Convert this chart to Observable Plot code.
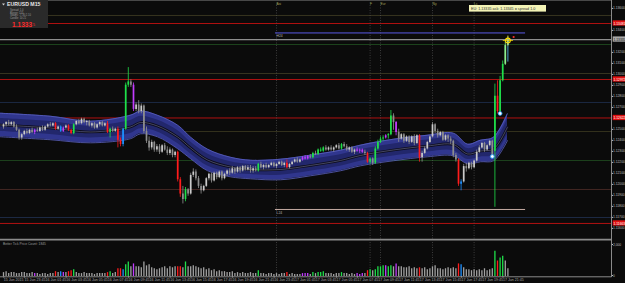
<!DOCTYPE html>
<html><head><meta charset="utf-8">
<script src="https://cdn.jsdelivr.net/npm/d3@7"></script>
<script src="https://cdn.jsdelivr.net/npm/@observablehq/plot@0.6"></script>
<style>
html,body{margin:0;padding:0;background:#0b0b0b;overflow:hidden;}
#wrap{position:relative;width:625px;height:283px;background:#0b0b0b;overflow:hidden;}
#wrap svg{position:absolute;left:0;}
</style></head><body><div id="wrap"></div>
<script>
// ---- EURUSD M15 candles, bar 0 = 15 Jun 2015 21:45 ----
const opens = [1.1254,1.1256,1.1258,1.1256,1.1258,1.1254,1.1251,1.1244,1.1247,1.1250,
1.1248,1.1251,1.1249,1.1251,1.1250,1.1253,1.1251,1.1254,1.1256,1.1255,
1.1257,1.1252,1.1254,1.1250,1.1253,1.1255,1.1251,1.1248,1.1256,1.1259,
1.1257,1.1261,1.1258,1.1259,1.1255,1.1257,1.1253,1.1256,1.1258,1.1255,
1.1257,1.1249,1.1252,1.1250,1.1252,1.1242,1.1238,1.1252,1.1292,1.1295,
1.1292,1.1270,1.1274,1.1268,1.1273,1.1250,1.1241,1.1235,1.1240,1.1233,
1.1236,1.1231,1.1237,1.1233,1.1230,1.1233,1.1228,1.1231,1.1206,1.1193,
1.1188,1.1197,1.1193,1.1210,1.1213,1.1207,1.1200,1.1196,1.1200,1.1207,
1.1211,1.1205,1.1212,1.1208,1.1213,1.1207,1.1211,1.1214,1.1212,1.1216,
1.1213,1.1217,1.1214,1.1218,1.1215,1.1217,1.1214,1.1216,1.1214,1.1220,
1.1217,1.1219,1.1217,1.1219,1.1221,1.1218,1.1220,1.1222,1.1219,1.1221,
1.1217,1.1220,1.1222,1.1224,1.1222,1.1224,1.1226,1.1225,1.1227,1.1226,
1.1230,1.1229,1.1233,1.1232,1.1235,1.1233,1.1235,1.1233,1.1235,1.1237,
1.1234,1.1238,1.1236,1.1233,1.1235,1.1231,1.1233,1.1232,1.1233,1.1231,
1.1230,1.1222,1.1225,1.1221,1.1234,1.1240,1.1243,1.1244,1.1246,1.1247,
1.1264,1.1258,1.1249,1.1243,1.1247,1.1241,1.1245,1.1240,1.1245,1.1239,
1.1246,1.1226,1.1230,1.1234,1.1240,1.1245,1.1256,1.1250,1.1246,1.1249,
1.1242,1.1246,1.1243,1.1241,1.1228,1.1224,1.1202,1.1204,1.1218,1.1216,
1.1221,1.1217,1.1223,1.1231,1.1235,1.1239,1.1233,1.1237,1.1241,1.1232,
1.1282,1.1268,1.1296,1.1311,1.1328];
const highs = [1.1257,1.1259,1.1260,1.1259,1.1259,1.1256,1.1252,1.1248,1.1251,1.1252,
1.1252,1.1253,1.1252,1.1253,1.1254,1.1255,1.1255,1.1257,1.1258,1.1258,
1.1258,1.1255,1.1255,1.1254,1.1256,1.1256,1.1252,1.1257,1.1260,1.1261,
1.1262,1.1262,1.1260,1.1260,1.1258,1.1258,1.1257,1.1259,1.1259,1.1258,
1.1259,1.1253,1.1254,1.1253,1.1254,1.1244,1.1253,1.1294,1.1308,1.1297,
1.1294,1.1276,1.1278,1.1275,1.1274,1.1254,1.1245,1.1242,1.1241,1.1238,
1.1238,1.1238,1.1239,1.1236,1.1235,1.1234,1.1232,1.1232,1.1208,1.1200,
1.1199,1.1198,1.1212,1.1216,1.1215,1.1209,1.1202,1.1201,1.1208,1.1212,
1.1212,1.1213,1.1213,1.1214,1.1214,1.1212,1.1215,1.1216,1.1218,1.1217,
1.1218,1.1218,1.1219,1.1219,1.1219,1.1219,1.1218,1.1218,1.1221,1.1222,
1.1220,1.1221,1.1220,1.1222,1.1222,1.1221,1.1223,1.1223,1.1222,1.1224,
1.1221,1.1223,1.1225,1.1226,1.1225,1.1227,1.1228,1.1228,1.1229,1.1231,
1.1232,1.1234,1.1235,1.1236,1.1237,1.1236,1.1237,1.1236,1.1238,1.1239,
1.1239,1.1240,1.1238,1.1236,1.1236,1.1234,1.1235,1.1234,1.1234,1.1233,
1.1231,1.1226,1.1226,1.1236,1.1242,1.1245,1.1246,1.1247,1.1248,1.1269,
1.1266,1.1259,1.1252,1.1248,1.1248,1.1246,1.1246,1.1246,1.1247,1.1247,
1.1247,1.1232,1.1236,1.1241,1.1246,1.1258,1.1257,1.1252,1.1250,1.1250,
1.1247,1.1247,1.1245,1.1242,1.1230,1.1225,1.1206,1.1220,1.1221,1.1222,
1.1222,1.1224,1.1233,1.1237,1.1240,1.1240,1.1238,1.1242,1.1242,1.1293,
1.1296,1.1300,1.1314,1.1332,1.1336];
const lows = [1.1252,1.1254,1.1255,1.1255,1.1253,1.1250,1.1242,1.1242,1.1246,1.1247,
1.1247,1.1248,1.1247,1.1249,1.1249,1.1250,1.1250,1.1253,1.1254,1.1254,
1.1251,1.1251,1.1249,1.1249,1.1252,1.1250,1.1247,1.1247,1.1255,1.1256,
1.1256,1.1257,1.1255,1.1254,1.1253,1.1252,1.1252,1.1254,1.1254,1.1254,
1.1248,1.1244,1.1249,1.1249,1.1235,1.1236,1.1236,1.1251,1.1290,1.1290,
1.1268,1.1268,1.1266,1.1266,1.1248,1.1239,1.1232,1.1233,1.1231,1.1231,
1.1229,1.1230,1.1232,1.1228,1.1228,1.1226,1.1226,1.1204,1.1190,1.1184,
1.1186,1.1191,1.1192,1.1208,1.1205,1.1198,1.1193,1.1195,1.1199,1.1205,
1.1203,1.1204,1.1206,1.1207,1.1205,1.1206,1.1209,1.1210,1.1211,1.1211,
1.1212,1.1212,1.1213,1.1214,1.1214,1.1212,1.1212,1.1213,1.1213,1.1216,
1.1215,1.1216,1.1216,1.1218,1.1217,1.1216,1.1219,1.1218,1.1217,1.1216,
1.1216,1.1219,1.1221,1.1221,1.1221,1.1223,1.1224,1.1224,1.1225,1.1225,
1.1228,1.1228,1.1231,1.1231,1.1232,1.1232,1.1232,1.1231,1.1234,1.1233,
1.1233,1.1235,1.1232,1.1231,1.1230,1.1229,1.1231,1.1230,1.1230,1.1228,
1.1221,1.1220,1.1219,1.1220,1.1233,1.1239,1.1241,1.1243,1.1243,1.1246,
1.1251,1.1246,1.1240,1.1242,1.1239,1.1240,1.1238,1.1239,1.1237,1.1238,
1.1222,1.1222,1.1229,1.1233,1.1239,1.1244,1.1248,1.1244,1.1245,1.1241,
1.1241,1.1240,1.1238,1.1226,1.1222,1.1200,1.1196,1.1203,1.1213,1.1215,
1.1215,1.1216,1.1222,1.1230,1.1234,1.1231,1.1232,1.1236,1.1226,1.1181,
1.1266,1.1266,1.1295,1.1310,1.1313];
const closes = [1.1256,1.1258,1.1256,1.1258,1.1254,1.1251,1.1244,1.1247,1.1250,1.1248,
1.1251,1.1249,1.1251,1.1250,1.1253,1.1251,1.1254,1.1256,1.1255,1.1257,
1.1252,1.1254,1.1250,1.1253,1.1255,1.1251,1.1248,1.1256,1.1259,1.1257,
1.1261,1.1258,1.1259,1.1255,1.1257,1.1253,1.1256,1.1258,1.1255,1.1257,
1.1249,1.1252,1.1250,1.1252,1.1242,1.1238,1.1252,1.1292,1.1295,1.1292,
1.1270,1.1274,1.1268,1.1273,1.1250,1.1241,1.1235,1.1240,1.1233,1.1236,
1.1231,1.1237,1.1233,1.1230,1.1233,1.1228,1.1231,1.1206,1.1193,1.1188,
1.1197,1.1193,1.1210,1.1213,1.1207,1.1200,1.1196,1.1200,1.1207,1.1211,
1.1205,1.1212,1.1208,1.1213,1.1207,1.1211,1.1214,1.1212,1.1216,1.1213,
1.1217,1.1214,1.1218,1.1215,1.1217,1.1214,1.1216,1.1214,1.1220,1.1217,
1.1219,1.1217,1.1219,1.1221,1.1218,1.1220,1.1222,1.1219,1.1221,1.1217,
1.1220,1.1222,1.1224,1.1222,1.1224,1.1226,1.1225,1.1227,1.1226,1.1230,
1.1229,1.1233,1.1232,1.1235,1.1233,1.1235,1.1233,1.1235,1.1237,1.1234,
1.1238,1.1236,1.1233,1.1235,1.1231,1.1233,1.1232,1.1233,1.1231,1.1230,
1.1222,1.1225,1.1221,1.1234,1.1240,1.1243,1.1244,1.1246,1.1247,1.1264,
1.1258,1.1249,1.1243,1.1247,1.1241,1.1245,1.1240,1.1245,1.1239,1.1246,
1.1226,1.1230,1.1234,1.1240,1.1245,1.1256,1.1250,1.1246,1.1249,1.1242,
1.1246,1.1243,1.1241,1.1228,1.1224,1.1202,1.1204,1.1218,1.1216,1.1221,
1.1217,1.1223,1.1231,1.1235,1.1239,1.1233,1.1237,1.1241,1.1228,1.1282,
1.1268,1.1296,1.1311,1.1328,1.1333];
// g gray, r climax down, G climax up, b low volume, m churn, l/c last bars
const barType = ("gggggggggg"+"ggmggggggg"+"rgbmgrrGgg"+"gggggggggg"+"rGggrrbGGg"+
"mggggggggg"+"gggggggrrg"+"Gggggggggg"+"gggggggggg"+"ggggggggGg"+
"gggggggggr"+"gggggmmmgG"+"gGGGgggggg"+"Ggggggmmmg"+"rGgGGGGmGG"+
"gmgggggggg"+"rggggggggg"+"gggggrbggg"+"gggggggggG"+"rGGlc").split("");
const volumes = [228,285,171,228,228,171,171,228,228,171,171,228,171,
171,114,171,171,114,171,171,
285,228,285,228,228,285,342,399,
228,171,171,228,171,171,171,114,171,171,171,171,
228,285,171,228,
456,456,399,684,855,570,741,570,570,513,855,627,684,513,456,399,456,513,570,456,570,513,570,
570,570,513,855,570,570,627,570,513,456,513,399,456,
342,399,285,342,285,285,228,228,285,171,228,171,228,171,171,228,171,171,
342,
171,171,114,171,171,114,171,114,171,171,
228,
114,171,114,114,114,
171,171,171,114,
228,171,228,228,285,171,171,
171,114,171,171,
228,
171,171,114,171,114,
171,114,171,171,
342,399,342,399,570,570,627,627,570,627,
570,741,570,570,513,513,570,456,513,456,
513,456,513,399,456,570,627,456,456,399,
456,513,456,513,456,741,684,513,399,399,
342,399,342,399,342,456,342,399,456,
1482,912,1083,1197,912,456];

// moving-average envelope (read at bar positions)
const bandIdx = [-1.2,18,33.5,48.8,52.7,59.2,67,72,78.5,87.3,95,106.5,118,129.6,137.3,150,163,173,178.5,183.5,188.5,193.8];
const bandUpper = [1.12665,1.12638,1.12593,1.12647,1.12684,1.12647,1.12556,1.12447,1.12338,1.12265,1.12238,1.12247,1.12284,1.12329,1.12375,1.12429,1.12465,1.12484,1.12384,1.12420,1.12447,1.12660];
const bandLower = [1.12451,1.12424,1.12396,1.12433,1.12478,1.12451,1.12342,1.12251,1.12142,1.12087,1.12069,1.12060,1.12096,1.12142,1.12187,1.12233,1.12269,1.12278,1.12205,1.12224,1.12233,1.12415];

// horizontal levels
const levelPrices = [1.13554,1.13290,1.13026,1.12763,1.12499,1.12235,1.11972,1.11717];
const levelColors = ["#3d3a22","#1f4a1f","#3d3a22","#1e2d4a","#38351f","#1f4a1f","#4a2a26","#1e2d4a"];
const redLevels = [1.13481,1.12972,1.12622,1.11663];
const bidPrice = 1.13335;
const rangeLines = [1.13395,1.11790];
const rangeNames = ["H24","L24"];
const rangeColors = ["#5a5ae6","#c4aaa2"];
const rangeStart = 104.6, rangeEnd = 200.8;
const sessionIdx = [105,141,145,165,181];
const sessionNames = ["Asi","F","Eur","Ny","Lc"];
const arrowIdx = [188,191];
const arrowPrice = [1.12272,1.12663];
const priceTicks = [1.1360,1.1340,1.1320,1.1310,1.1300,1.1290,1.1280,1.1270,1.1250,1.1240,1.1230,1.1220,1.1210,1.1200,1.1190,1.1180,1.1170,1.1160];
const labelIdx = [0,8,16,24,32,40,48,56,64,72,80,88,96,104,112,120,128,136,144,152,160,168,176,184,192];
const timeLabels = ["15 Jun 2015","15 Jun 23:45","16 Jun 01:45","16 Jun 03:45","16 Jun 05:45","16 Jun 07:45","16 Jun 09:45","16 Jun 11:45","16 Jun 13:45","16 Jun 15:45","16 Jun 17:45","16 Jun 19:45","16 Jun 21:45","16 Jun 23:45","17 Jun 01:45","17 Jun 03:45","17 Jun 05:45","17 Jun 07:45","17 Jun 09:45","17 Jun 11:45","17 Jun 13:45","17 Jun 15:45","17 Jun 17:45","17 Jun 19:45","17 Jun 21:45"];

// ---- drawing ----
const wrap = document.getElementById("wrap");
const font = "Liberation Sans, Arial, sans-serif";
const bars = d3.range(closes.length).map(i => ({i, o: opens[i], h: highs[i], l: lows[i], c: closes[i], t: barType[i], v: volumes[i]}));
const pal = {r:"#ff1c1c", G:"#1fe04a", b:"#1e90ff", m:"#c23cff", l:"#8ef08e", c:"#5cc8ff"};
const bodyCol = d => d.t === "g" ? (d.c >= d.o ? "#cacaca" : "#8d8d8d") : pal[d.t];
const wickCol = d => d.t === "g" ? "#909090" : pal[d.t];
const volCol = d => (d.t === "g" || d.t === "l" || d.t === "c") ? "#a2a2a2" : pal[d.t];
const xDomain = [-3/2.6, 608/2.6];
const band = bandIdx.map((x,k) => {
  const u = bandUpper[k], lo = bandLower[k], m = (u + lo) / 2, hw = (u - lo) / 2;
  return {x, u, lo, m, iu: m + hw * 0.55, il: m - hw * 0.55};
});
const boxes = [...redLevels.map(p => ({p, f:"#e01010", tc:"#ffffff"})), {p: bidPrice, f:"#a9a9a9", tc:"#101010"}];
const fmt5 = d3.format(".5f");
const curve = "catmull-rom";

const main = Plot.plot({
  width: 625, height: 240, marginLeft: 0, marginRight: 14, marginTop: 0, marginBottom: 0,
  style: {background: "transparent", color: "#c4c4c4", fontFamily: font, overflow: "visible"},
  x: {domain: xDomain, axis: null, label: null},
  y: {domain: [1.11508, 1.1369], axis: null, label: null},
  color: {type: "identity"},
  marks: [
    Plot.ruleY(levelPrices, {y: d => d, stroke: (d,k) => levelColors[k], strokeWidth: 0.9}),
    Plot.ruleY(redLevels, {y: d => d, stroke: "#c41212", strokeWidth: 0.9}),
    Plot.ruleX(sessionIdx, {x: d => d, stroke: "#5c5c5c", strokeWidth: 0.6, strokeDasharray: "1,1.5"}),
    Plot.ruleY(rangeLines, {y: d => d, x1: () => rangeStart, x2: () => rangeEnd, stroke: (d,k) => rangeColors[k], strokeWidth: 1}),
    Plot.text(rangeLines, {x: () => rangeStart + 0.4, y: d => d, text: (d,k) => rangeNames[k], dy: 3.2, textAnchor: "start", fontSize: 3.4, fill: "#b0b0b0"}),
    Plot.ruleY([bidPrice], {y: d => d, stroke: "#8e8e8e", strokeWidth: 1.2}),
    Plot.areaY(band, {x: "x", y1: "lo", y2: "u", fill: "#30368e", curve}),
    Plot.areaY(band, {x: "x", y1: "il", y2: "iu", fill: "#22276c", curve}),
    Plot.line(band, {x: "x", y: "u", stroke: "#5a61c0", strokeWidth: 0.8, curve}),
    Plot.line(band, {x: "x", y: "lo", stroke: "#5a61c0", strokeWidth: 0.8, curve}),
    Plot.line(band, {x: "x", y: "m", stroke: "#0d0d1c", strokeWidth: 2.6, curve}),
    Plot.line(band, {x: "x", y: "m", stroke: "#7d7fa6", strokeWidth: 0.5, curve}),
    Plot.ruleX(bars, {x: "i", y1: "l", y2: "h", stroke: wickCol, strokeWidth: 0.8}),
    Plot.ruleX(bars, {x: "i", y1: "o", y2: "c", stroke: bodyCol, strokeWidth: 1.7}),
    Plot.dot(arrowIdx, {x: d => d, y: (d,k) => arrowPrice[k], r: 1.9, fill: "#ffffff", stroke: "#2a9df4", strokeWidth: 0.9}),
    Plot.dot([194], {x: d => d, y: () => 1.13326, r: 2.4, fill: "none", stroke: "#ffe000", strokeWidth: 1.1}),
    Plot.dot([194], {x: d => d, y: () => 1.13326, r: 3.4, symbol: "plus", stroke: "#ffe000", strokeWidth: 0.7}),
    Plot.dot([196.2], {x: d => d, y: () => 1.13358, r: 1.1, fill: "#ff3030", stroke: "none"}),
    Plot.axisY(priceTicks, {anchor: "right", label: null, tickSize: 1, tickPadding: 0.4, fontSize: 3.3, tickFormat: fmt5, dy: -2, color: "#bdbdbd"}),
    Plot.rect(boxes, {x1: () => 234.5, x2: () => 239.6, y1: d => d.p - 0.00024, y2: d => d.p + 0.00024, fill: "f"}),
    Plot.text(boxes, {x: () => 234.6, y: "p", text: d => fmt5(d.p), fill: "tc", textAnchor: "start", fontSize: 3.3})
  ]
});
main.style.top = "0px";
wrap.appendChild(main);

const vol = Plot.plot({
  width: 625, height: 43, marginLeft: 0, marginRight: 14, marginTop: 2, marginBottom: 7,
  style: {background: "transparent", color: "#a8a8a8", fontFamily: font, overflow: "visible"},
  x: {domain: xDomain, axis: null, label: null},
  y: {domain: [0, 2000], axis: null, label: null},
  color: {type: "identity"},
  marks: [
    Plot.ruleX(sessionIdx, {x: d => d, stroke: "#5c5c5c", strokeWidth: 0.6, strokeDasharray: "1,1.5"}),
    Plot.ruleX(bars, {x: "i", y1: () => 0, y2: "v", stroke: volCol, strokeWidth: 1.3}),
    Plot.axisX(labelIdx, {anchor: "bottom", label: null, tickSize: 1.5, tickPadding: 0.8, fontSize: 3.6, textAnchor: "start", dx: 0.3, tickFormat: d => timeLabels[labelIdx.indexOf(d)], color: "#a8a8a8"}),
    Plot.axisY([2000], {anchor: "right", label: null, tickSize: 1, tickPadding: 0.4, fontSize: 3.3, dy: 2, color: "#bdbdbd"}),
    Plot.axisY([0], {anchor: "right", label: null, tickSize: 1, tickPadding: 0.4, fontSize: 3.3, dy: -1, color: "#bdbdbd"})
  ]
});
vol.style.top = "240px";
wrap.appendChild(vol);

// overlay: frame, panel titles and info boxes
const ov = d3.select(wrap).append("svg").attr("width", 625).attr("height", 283)
  .style("position", "absolute").style("top", "0px").style("left", "0px").attr("font-family", font);
ov.append("line").attr("x1", 0).attr("x2", 611).attr("y1", 0.5).attr("y2", 0.5).attr("stroke", "#484848");
ov.append("line").attr("x1", 0).attr("x2", 611.5).attr("y1", 239.6).attr("y2", 239.6).attr("stroke", "#8a8a8a").attr("stroke-width", 1.6);
ov.append("line").attr("x1", 611.5).attr("x2", 611.5).attr("y1", 0).attr("y2", 277).attr("stroke", "#8a8a8a");
ov.append("line").attr("x1", 0).attr("x2", 611.5).attr("y1", 276.8).attr("y2", 276.8).attr("stroke", "#8a8a8a");

const info = ov.append("g");
info.append("rect").attr("x", 0).attr("y", 0).attr("width", 48).attr("height", 28).attr("fill", "#2a2a2a");
info.append("path").attr("d", "M2,3.6 L5,3.6 L3.5,5.6 Z").attr("fill", "#d0d0d0");
info.append("text").attr("x", 7).attr("y", 6.4).attr("font-size", 5.2).attr("font-weight", "bold").attr("fill", "#e6e6e6").text("EURUSD   M15");
const infoLines = ["Spread:    1.0", "Range:    155", "Swaps:  -7.30  2.10", "Candle:   10:21"];
infoLines.forEach((t, k) => info.append("text").attr("x", 10).attr("y", 10.6 + k * 2.9).attr("font-size", 2.6).attr("fill", "#9a9a9a").text(t));
info.append("text").attr("x", 12).attr("y", 26.6).attr("font-size", 6.6).attr("font-weight", "bold").attr("fill", "#ff2a2a").text("1.1333");
info.append("text").attr("x", 33).attr("y", 26.4).attr("font-size", 3.6).attr("fill", "#ff2a2a").text("5");

ov.append("rect").attr("x", 469).attr("y", 5).attr("width", 77).attr("height", 6.6).attr("fill", "#f3f3b6");
ov.append("text").attr("x", 471).attr("y", 9.8).attr("font-size", 3.7).attr("fill", "#303030").text("EU: 1.13335 ask: 1.13345 = spread 1.0");

const sessX = [276, 369.6, 380, 432, 473.6];
sessionNames.forEach((t, k) => ov.append("text").attr("x", sessX[k] + 0.5).attr("y", 4.6).attr("font-size", 3.3).attr("fill", "#a4a45a").text(t));
ov.append("text").attr("x", 3).attr("y", 245.4).attr("font-size", 3.3).attr("fill", "#9a9a9a").text("Better Tick Price    Count: 1845");
</script></body></html>
